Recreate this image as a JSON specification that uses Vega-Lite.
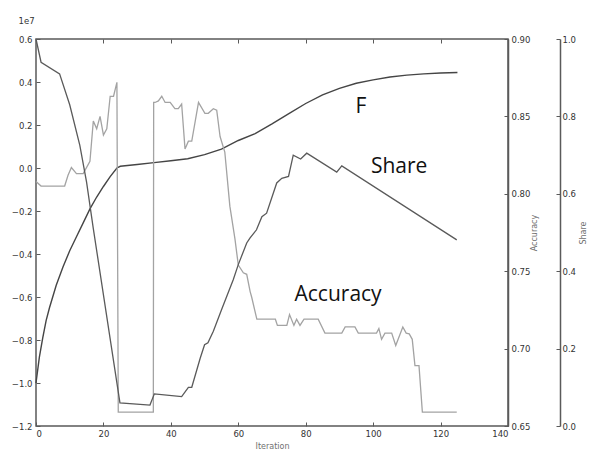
{
  "$schema": "https://vega.github.io/schema/vega-lite/v6.json",
  "width": 472,
  "height": 387,
  "autosize": {"type": "none"},
  "padding": {"left": 36, "top": 39, "right": 82, "bottom": 35},
  "background": "white",
  "config": {
    "view": {"stroke": "#5a5a5a", "strokeWidth": 1.5},
    "axis": {
      "labelFont": "DejaVu Sans", "labelFontSize": 8.5, "labelColor": "#333",
      "titleFont": "DejaVu Sans", "titleFontSize": 8, "titleFontWeight": "normal", "titleColor": "#707070",
      "domainColor": "#5a5a5a", "domainWidth": 1.5, "tickColor": "#5a5a5a", "tickWidth": 1,
      "tickSize": -4, "labelPadding": 8, "grid": false
    }
  },
  "datasets": {
    "fvals": [
      {"iteration": 0, "F": -10000000}, {"iteration": 1, "F": -8800000}, {"iteration": 2, "F": -7900000},
      {"iteration": 3, "F": -7100000}, {"iteration": 4, "F": -6500000}, {"iteration": 6, "F": -5450000},
      {"iteration": 8, "F": -4600000}, {"iteration": 10, "F": -3850000}, {"iteration": 12, "F": -3200000},
      {"iteration": 14, "F": -2550000}, {"iteration": 16, "F": -1900000}, {"iteration": 18, "F": -1350000},
      {"iteration": 20, "F": -860000}, {"iteration": 22, "F": -400000}, {"iteration": 24, "F": 0},
      {"iteration": 25, "F": 80000}, {"iteration": 30, "F": 160000}, {"iteration": 35, "F": 250000},
      {"iteration": 40, "F": 340000}, {"iteration": 45, "F": 430000}, {"iteration": 50, "F": 620000},
      {"iteration": 55, "F": 880000}, {"iteration": 60, "F": 1280000}, {"iteration": 65, "F": 1600000},
      {"iteration": 70, "F": 2050000}, {"iteration": 75, "F": 2530000}, {"iteration": 80, "F": 3000000},
      {"iteration": 85, "F": 3400000}, {"iteration": 90, "F": 3700000}, {"iteration": 95, "F": 3940000},
      {"iteration": 100, "F": 4100000}, {"iteration": 105, "F": 4230000}, {"iteration": 110, "F": 4320000},
      {"iteration": 115, "F": 4380000}, {"iteration": 120, "F": 4420000}, {"iteration": 125, "F": 4440000}
    ],
    "labels": [
      {"label": "F", "iteration": 96.4, "F": 2550000},
      {"label": "Share", "iteration": 107.7, "F": -220000},
      {"label": "Accuracy", "iteration": 89.6, "F": -6170000}
    ],
    "accuracy": [
      {"iteration": 0, "accuracy": 0.808}, {"iteration": 1.5, "accuracy": 0.805}, {"iteration": 8.5, "accuracy": 0.805},
      {"iteration": 9.5, "accuracy": 0.812}, {"iteration": 10.5, "accuracy": 0.817}, {"iteration": 12, "accuracy": 0.813},
      {"iteration": 14, "accuracy": 0.813}, {"iteration": 16, "accuracy": 0.821}, {"iteration": 17, "accuracy": 0.847},
      {"iteration": 18, "accuracy": 0.842}, {"iteration": 19, "accuracy": 0.850}, {"iteration": 20, "accuracy": 0.838},
      {"iteration": 21, "accuracy": 0.842}, {"iteration": 22, "accuracy": 0.863}, {"iteration": 23, "accuracy": 0.863},
      {"iteration": 24, "accuracy": 0.872}, {"iteration": 24.4, "accuracy": 0.659}, {"iteration": 34.8, "accuracy": 0.659},
      {"iteration": 34.9, "accuracy": 0.859}, {"iteration": 35.3, "accuracy": 0.859}, {"iteration": 36.3, "accuracy": 0.860},
      {"iteration": 37.3, "accuracy": 0.863}, {"iteration": 38.3, "accuracy": 0.859}, {"iteration": 39.8, "accuracy": 0.859},
      {"iteration": 41.2, "accuracy": 0.855}, {"iteration": 42.2, "accuracy": 0.855}, {"iteration": 43.2, "accuracy": 0.858},
      {"iteration": 44.2, "accuracy": 0.829}, {"iteration": 45.2, "accuracy": 0.834}, {"iteration": 46.2, "accuracy": 0.834},
      {"iteration": 48.2, "accuracy": 0.859}, {"iteration": 50.1, "accuracy": 0.852}, {"iteration": 51.1, "accuracy": 0.852},
      {"iteration": 52.6, "accuracy": 0.855}, {"iteration": 53.6, "accuracy": 0.854}, {"iteration": 54.6, "accuracy": 0.837},
      {"iteration": 56, "accuracy": 0.827}, {"iteration": 57.5, "accuracy": 0.792}, {"iteration": 59, "accuracy": 0.771},
      {"iteration": 60, "accuracy": 0.754}, {"iteration": 61.5, "accuracy": 0.749}, {"iteration": 62.5, "accuracy": 0.748},
      {"iteration": 63.5, "accuracy": 0.737}, {"iteration": 64, "accuracy": 0.733}, {"iteration": 65.5, "accuracy": 0.719},
      {"iteration": 71, "accuracy": 0.719}, {"iteration": 71.6, "accuracy": 0.715}, {"iteration": 74.4, "accuracy": 0.715},
      {"iteration": 75.2, "accuracy": 0.722}, {"iteration": 76.5, "accuracy": 0.715}, {"iteration": 77.3, "accuracy": 0.719},
      {"iteration": 78.3, "accuracy": 0.715}, {"iteration": 79.5, "accuracy": 0.719}, {"iteration": 83.7, "accuracy": 0.719},
      {"iteration": 85.7, "accuracy": 0.710}, {"iteration": 90.7, "accuracy": 0.710}, {"iteration": 91.7, "accuracy": 0.714},
      {"iteration": 94.6, "accuracy": 0.714}, {"iteration": 95.6, "accuracy": 0.710}, {"iteration": 101, "accuracy": 0.710},
      {"iteration": 101.7, "accuracy": 0.713}, {"iteration": 102.5, "accuracy": 0.706}, {"iteration": 103.5, "accuracy": 0.710},
      {"iteration": 105.5, "accuracy": 0.710}, {"iteration": 106.7, "accuracy": 0.702}, {"iteration": 108.8, "accuracy": 0.714},
      {"iteration": 109.8, "accuracy": 0.710}, {"iteration": 110.7, "accuracy": 0.7095}, {"iteration": 111.6, "accuracy": 0.706},
      {"iteration": 112.4, "accuracy": 0.689}, {"iteration": 113.6, "accuracy": 0.689}, {"iteration": 114.6, "accuracy": 0.659},
      {"iteration": 124.8, "accuracy": 0.659}
    ],
    "share": [
      {"iteration": 0, "share": 1.0}, {"iteration": 1.5, "share": 0.94}, {"iteration": 7, "share": 0.91},
      {"iteration": 10, "share": 0.83}, {"iteration": 13, "share": 0.725}, {"iteration": 15, "share": 0.63},
      {"iteration": 17, "share": 0.51}, {"iteration": 24.9, "share": 0.06}, {"iteration": 33.8, "share": 0.054},
      {"iteration": 35.1, "share": 0.083}, {"iteration": 43.2, "share": 0.076}, {"iteration": 45.2, "share": 0.10},
      {"iteration": 46.2, "share": 0.10}, {"iteration": 48.7, "share": 0.175}, {"iteration": 50, "share": 0.21},
      {"iteration": 51, "share": 0.215}, {"iteration": 52.6, "share": 0.245}, {"iteration": 55, "share": 0.30},
      {"iteration": 58.5, "share": 0.378}, {"iteration": 60, "share": 0.417}, {"iteration": 62.5, "share": 0.473},
      {"iteration": 63.5, "share": 0.486}, {"iteration": 65.4, "share": 0.507}, {"iteration": 67, "share": 0.541},
      {"iteration": 68.4, "share": 0.55}, {"iteration": 71.4, "share": 0.628}, {"iteration": 72.9, "share": 0.64},
      {"iteration": 74.9, "share": 0.645}, {"iteration": 76.3, "share": 0.70}, {"iteration": 78.5, "share": 0.69},
      {"iteration": 80.3, "share": 0.705}, {"iteration": 89.2, "share": 0.656}, {"iteration": 90.7, "share": 0.672},
      {"iteration": 124.8, "share": 0.481}
    ]
  },
  "layer": [
    {
      "layer": [
        {
          "data": {"name": "fvals"},
          "mark": {"type": "line", "color": "#454545", "strokeWidth": 1.4},
          "encoding": {
            "x": {"field": "iteration", "type": "quantitative", "scale": {"domain": [0, 140], "nice": false},
                  "axis": {"orient": "bottom", "values": [0, 20, 40, 60, 80, 100, 120, 140], "title": "Iteration", "domain": false, "labelPadding": 7, "titlePadding": 5}},
            "y": {"field": "F", "type": "quantitative", "scale": {"domain": [-12000000, 6000000], "nice": false, "zero": false},
                  "axis": {"orient": "left", "domain": false,
                           "values": [-12000000, -10000000, -8000000, -6000000, -4000000, -2000000, 0, 2000000, 4000000, 6000000],
                           "labelExpr": "format(datum.value / 10000000, '.1f')",
                           "title": "1e7", "titleAngle": 0, "titleX": -18, "titleY": -16, "titleAlign": "left", "titleBaseline": "alphabetic",
                           "titleFontSize": 8.5, "titleColor": "#333"}}
          }
        },
        {
          "data": {"name": "labels"},
          "mark": {"type": "text", "font": "Open Sans", "fontSize": 21, "color": "#111", "align": "center", "baseline": "alphabetic"},
          "encoding": {
            "x": {"field": "iteration", "type": "quantitative"},
            "y": {"field": "F", "type": "quantitative"},
            "text": {"field": "label"}
          }
        }
      ]
    },
    {
      "data": {"name": "accuracy"},
      "mark": {"type": "line", "color": "#a3a3a3", "strokeWidth": 1.3},
      "encoding": {
        "x": {"field": "iteration", "type": "quantitative",
              "axis": {"orient": "top", "values": [0, 20, 40, 60, 80, 100, 120, 140], "labels": false, "domain": false, "title": null}},
        "y": {"field": "accuracy", "type": "quantitative", "scale": {"domain": [0.65, 0.9], "nice": false, "zero": false},
              "axis": {"orient": "right", "values": [0.65, 0.7, 0.75, 0.8, 0.85, 0.9], "format": ".2f", "title": "Accuracy",
                       "titleAngle": -90, "titlePadding": 9, "labelPadding": 7}}
      }
    },
    {
      "data": {"name": "share"},
      "mark": {"type": "line", "color": "#5a5a5a", "strokeWidth": 1.3},
      "encoding": {
        "x": {"field": "iteration", "type": "quantitative", "axis": null},
        "y": {"field": "share", "type": "quantitative", "scale": {"domain": [0, 1], "nice": false},
              "axis": {"orient": "right", "offset": 52, "values": [0, 0.2, 0.4, 0.6, 0.8, 1.0], "format": ".1f", "title": "Share",
                       "titleAngle": -90, "titlePadding": 12, "labelPadding": 6}}
      }
    }
  ],
  "resolve": {"scale": {"y": "independent"}, "axis": {"x": "independent", "y": "independent"}}
}
